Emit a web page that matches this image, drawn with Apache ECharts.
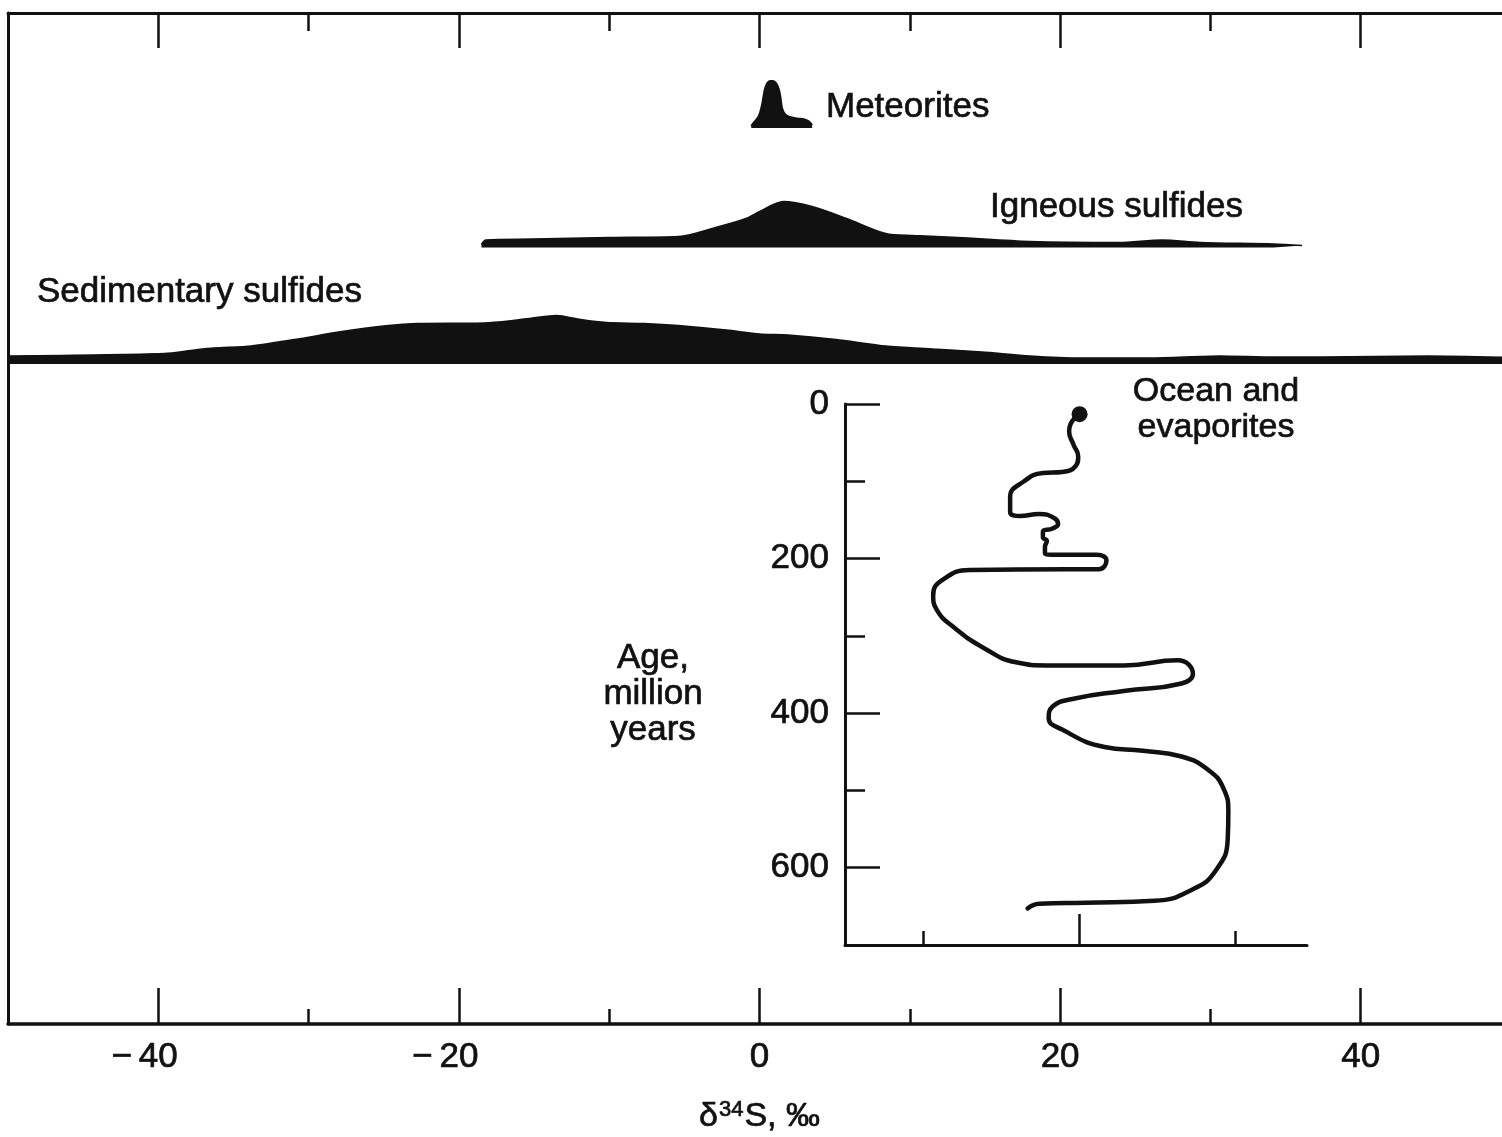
<!DOCTYPE html>
<html><head><meta charset="utf-8">
<script src="https://cdn.jsdelivr.net/npm/echarts@6/dist/echarts.min.js"></script>
<style>html,body{margin:0;padding:0;background:#fff}#c{width:1502px;height:1137px}</style>
</head><body><div id="c"></div>
<script>
// ---- data ----
const xMajorTicks = [-40, -20, 0, 20, 40];
const xMinorTicks = [-30, -10, 10, 30];

const meteoriteDelta = [-0.55, -0.35, -0.1, 0.05, 0.18, 0.27, 0.36, 0.5, 0.7, 0.9, 1.12, 1.3, 1.4, 1.5, 1.68, 2.0, 2.5, 3.0, 3.3, 3.5];
const meteoriteFreq  = [2, 6, 10.5, 16, 24, 32, 39, 44.5, 47, 47, 44.5, 38, 30, 20, 14, 11, 9.5, 8.5, 6.5, 3];

const igneousDelta = [-18.5, -18.2, -15.1, -10, -5.4, -2.8, -0.9, 0, 1.6, 3.5, 5.8, 8.4, 10.3, 13.2, 18, 23.9, 26.8, 29.3, 34.2, 36.1];
const igneousFreq  = [3, 7.5, 8.5, 10, 11, 20.5, 29, 36, 46, 41, 29, 14, 12, 10, 6, 5, 7.5, 5, 3.5, 2];

const sedimentaryDelta = [-50, -39.6, -37.6, -36.3, -33.8, -30.5, -28, -24.7, -22.8, -18.3, -16.4, -15.1, -13.5, -11.9, -10.2, -7.7, -5.4, -2.2, 0, 1.9, 5.1, 8.4, 11.6, 14.8, 18, 21.3, 26, 30.6, 34.2, 37.4, 44.5, 50];
const sedimentaryFreq  = [8, 10.5, 14, 16, 18, 25.5, 32, 38.5, 40.5, 41, 43.5, 46, 48.5, 44.5, 41.5, 40.5, 38.5, 34, 30, 29, 24.5, 18, 15, 12, 8, 6, 6, 8, 7, 7, 8, 6.5];

const oceanDelta = [20.03, 19.46, 19.36, 19.65, 19.94, 19.78, 18.91, 17.68, 16.45, 15.58, 15.58, 16.21, 17.44, 18.40, 18.65, 18.30, 17.68, 17.68, 17.93, 17.81, 17.81, 18.17, 21.13, 21.75, 21.26, 19.17, 13.0, 11.27, 10.65, 10.9, 12.01, 13.97, 15.96, 17.93, 22.86, 26.31, 27.29, 26.56, 22.86, 19.65, 18.30, 18.05, 18.91, 21.63, 24.09, 26.56, 28.28, 29.27, 29.56, 29.52, 28.78, 27.29, 24.83, 20.38, 17.44, 16.70];
const oceanAge   = [13.2, 25.6, 35.6, 53, 67.9, 80.2, 88, 89.3, 100.3, 120.3, 139.7, 144.9, 142.3, 147.5, 155.3, 161.1, 165, 172.5, 177.3, 185, 192.4, 194.9, 194.9, 202.4, 213.7, 213.7, 214.8, 227.2, 247.1, 267, 289.4, 316.7, 334.2, 338.2, 338.2, 331.7, 349.1, 361.6, 371.3, 381.4, 391.4, 406.3, 421.3, 443.8, 448.7, 456.1, 473.5, 498.4, 528.3, 563.1, 602.9, 627.8, 642.8, 645.2, 646.7, 652.7];

const ageLabelTicks = [0, 200, 400, 600];
const ageMinorTicks = [100, 300, 500];
const insetMajorTicks = [20];
const insetMinorTicks = [10, 30];

// ---- chart ----
const INK = '#111';
const FONT = '"Liberation Sans", Arial, Helvetica, sans-serif';
const pairs = (xs, ys) => xs.map((x, i) => [x, ys[i]]);
const BOLDEN = { textBorderColor: INK, textBorderWidth: 0.7 };

const hiddenAxis = (grid, extra) => Object.assign({
  gridIndex: grid, type: 'value', show: false,
  axisLine: { show: false, onZero: false }, axisTick: { show: false },
  axisLabel: { show: false }, splitLine: { show: false }
}, extra);

const gridBase = { left: 8, width: 1503, outerBoundsMode: 'none', containLabel: false, show: false };

const txt = (x, y, text, size, extra) => ({
  type: 'text', x: x, y: y, silent: true,
  style: Object.assign({ text: text, fill: INK, stroke: INK, lineWidth: 0.7, font: size + 'px ' + FONT,
    align: 'left', verticalAlign: 'middle', textAlign: 'left', textVerticalAlign: 'middle' }, extra || {})
});

const option = {
  backgroundColor: '#fff',
  animation: false,
  textStyle: { fontFamily: FONT, color: INK },
  grid: [
    Object.assign({}, gridBase, { top: 13, height: 1011 }),          // frame
    Object.assign({}, gridBase, { top: 78, height: 50 }),            // meteorites
    Object.assign({}, gridBase, { top: 197.5, height: 50 }),         // igneous
    Object.assign({}, gridBase, { top: 314, height: 50 }),           // sedimentary
    { left: 845, top: 404, width: 462, height: 541, outerBoundsMode: 'none', containLabel: false, show: false } // inset
  ],
  xAxis: [
    { // 0 bottom major
      gridIndex: 0, type: 'value', position: 'bottom', min: -50, max: 50,
      axisLine: { show: true, onZero: false, lineStyle: { color: INK, width: 3.5 } },
      axisTick: { show: true, inside: true, length: 36, customValues: xMajorTicks, lineStyle: { color: INK, width: 2.5 } },
      axisLabel: Object.assign({
        show: true, customValues: xMajorTicks, margin: 16,
        formatter: v => v < 0 ? '{n|\u2212\u2009}' + Math.abs(v) + '{h|\u2212\u2009}' : String(v),
        fontSize: 35, color: INK, fontFamily: FONT,
        rich: { n: Object.assign({ fontSize: 35, color: INK, fontFamily: FONT }, BOLDEN),
                h: { fontSize: 35, color: 'rgba(0,0,0,0)', fontFamily: FONT, textBorderColor: 'rgba(0,0,0,0)', textBorderWidth: 0 } }
      }, BOLDEN),
      splitLine: { show: false },
      name: 'δ{s|34}S, ‰', nameLocation: 'middle', nameGap: 75,
      nameTextStyle: Object.assign({ fontSize: 34, color: INK, fontFamily: FONT,
        rich: { s: Object.assign({ fontSize: 22, color: INK, fontFamily: FONT, padding: [0, 1, 13, 1] }, BOLDEN) } }, BOLDEN)
    },
    { // 1 bottom minor
      gridIndex: 0, type: 'value', position: 'bottom', min: -50, max: 50,
      axisLine: { show: false, onZero: false },
      axisTick: { show: true, inside: true, length: 15, customValues: xMinorTicks, lineStyle: { color: INK, width: 2.5 } },
      axisLabel: { show: false }, splitLine: { show: false }
    },
    { // 2 top major
      gridIndex: 0, type: 'value', position: 'top', min: -50, max: 50,
      axisLine: { show: true, onZero: false, lineStyle: { color: INK, width: 3 } },
      axisTick: { show: true, inside: true, length: 35, customValues: xMajorTicks, lineStyle: { color: INK, width: 2.5 } },
      axisLabel: { show: false }, splitLine: { show: false }
    },
    { // 3 top minor
      gridIndex: 0, type: 'value', position: 'top', min: -50, max: 50,
      axisLine: { show: false, onZero: false },
      axisTick: { show: true, inside: true, length: 18, customValues: xMinorTicks, lineStyle: { color: INK, width: 2.5 } },
      axisLabel: { show: false }, splitLine: { show: false }
    },
    hiddenAxis(1, { min: -50, max: 50 }),  // 4
    hiddenAxis(2, { min: -50, max: 50 }),  // 5
    hiddenAxis(3, { min: -50, max: 50 }),  // 6
    { // 7 inset major
      gridIndex: 4, type: 'value', position: 'bottom', min: 5, max: 34.6,
      axisLine: { show: true, onZero: false, lineStyle: { color: INK, width: 3 } },
      axisTick: { show: true, inside: true, length: 31, customValues: insetMajorTicks, lineStyle: { color: INK, width: 2.5 } },
      axisLabel: { show: false }, splitLine: { show: false }
    },
    { // 8 inset minor
      gridIndex: 4, type: 'value', position: 'bottom', min: 5, max: 34.6,
      axisLine: { show: false, onZero: false },
      axisTick: { show: true, inside: true, length: 14, customValues: insetMinorTicks, lineStyle: { color: INK, width: 2.5 } },
      axisLabel: { show: false }, splitLine: { show: false }
    }
  ],
  yAxis: [
    { // 0 frame left
      gridIndex: 0, type: 'value', position: 'left', min: 0, max: 1,
      axisLine: { show: true, onZero: false, lineStyle: { color: INK, width: 3 } },
      axisTick: { show: false }, axisLabel: { show: false }, splitLine: { show: false }
    },
    hiddenAxis(1, { min: 0, max: 50 }),  // 1
    hiddenAxis(2, { min: 0, max: 50 }),  // 2
    hiddenAxis(3, { min: 0, max: 50 }),  // 3
    { // 4 inset age major
      gridIndex: 4, type: 'value', position: 'left', inverse: true, min: 0, max: 700, interval: 100,
      axisLine: { show: true, onZero: false, lineStyle: { color: INK, width: 3 } },
      axisTick: { show: true, inside: true, length: 35, customValues: ageLabelTicks, lineStyle: { color: INK, width: 2.5 } },
      axisLabel: Object.assign({ show: true, customValues: ageLabelTicks, margin: 16, fontSize: 35, color: INK, fontFamily: FONT }, BOLDEN),
      splitLine: { show: false }
    },
    { // 5 inset age minor
      gridIndex: 4, type: 'value', position: 'left', inverse: true, min: 0, max: 700, interval: 100,
      axisLine: { show: false, onZero: false },
      axisTick: { show: true, inside: true, length: 20, customValues: ageMinorTicks, lineStyle: { color: INK, width: 2.5 } },
      axisLabel: { show: false }, splitLine: { show: false }
    }
  ],
  series: [
    {
      name: 'Meteorites', type: 'line', xAxisIndex: 4, yAxisIndex: 1,
      data: pairs(meteoriteDelta, meteoriteFreq), smooth: 0.3, symbol: 'none', clip: false,
      lineStyle: { color: INK, width: 2, join: 'round' }, areaStyle: { color: INK, opacity: 1, origin: 'start' }
    },
    {
      name: 'Igneous sulfides', type: 'line', xAxisIndex: 5, yAxisIndex: 2,
      data: pairs(igneousDelta, igneousFreq), smooth: 0.3, symbol: 'none', clip: false,
      lineStyle: { color: INK, width: 1.5 }, areaStyle: { color: INK, opacity: 1, origin: 'start' }
    },
    {
      name: 'Sedimentary sulfides', type: 'line', xAxisIndex: 6, yAxisIndex: 3,
      data: pairs(sedimentaryDelta, sedimentaryFreq), smooth: 0.25, symbol: 'none', clip: false,
      lineStyle: { color: INK, width: 1.5 }, areaStyle: { color: INK, opacity: 1, origin: 'start' }
    },
    {
      name: 'Ocean and evaporites', type: 'line', xAxisIndex: 7, yAxisIndex: 4,
      data: pairs(oceanDelta, oceanAge), smooth: 0.5, symbol: 'none', clip: false,
      lineStyle: { color: INK, width: 4.5, cap: 'round', join: 'round' }
    },
    {
      name: 'Present ocean', type: 'scatter', xAxisIndex: 7, yAxisIndex: 4,
      data: [[oceanDelta[0], oceanAge[0]]], symbol: 'circle', symbolSize: 16,
      itemStyle: { color: INK, opacity: 1 }
    }
  ],
  graphic: [
    txt(826, 107, 'Meteorites', 35),
    txt(990, 207, 'Igneous sulfides', 35),
    txt(37, 292, 'Sedimentary sulfides', 35),
    txt(1216, 410, 'Ocean and\nevaporites', 34, { lineHeight: 36, align: 'center', textAlign: 'center' }),
    txt(653, 694, 'Age,\nmillion\nyears', 35, { lineHeight: 36, align: 'center', textAlign: 'center' })
  ]
};

const chart = echarts.init(document.getElementById('c'), null, { renderer: 'canvas' });
chart.setOption(option);
</script>
</body></html>
